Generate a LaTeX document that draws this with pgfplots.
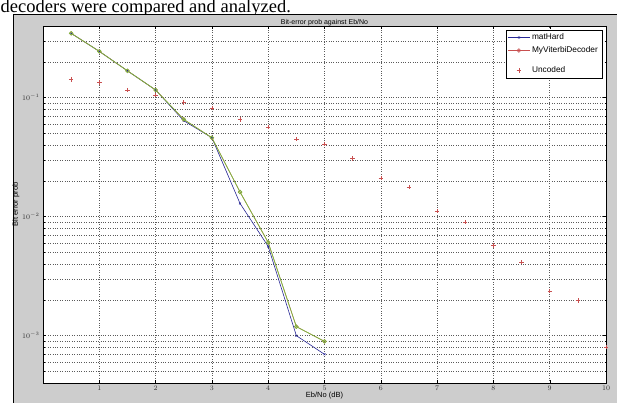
\documentclass[border=0pt]{standalone}
\usepackage{pgfplots}
\pgfplotsset{compat=1.18}
\usepackage{fontspec}
\setmainfont{Liberation Sans}
\newfontfamily\serifcap{Liberation Serif}
\definecolor{figgray}{RGB}{205,205,205}
\definecolor{mblue}{RGB}{40,40,150}
\definecolor{mred}{RGB}{200,80,80}
\definecolor{mgreen}{RGB}{120,190,60}
\definecolor{gridc}{RGB}{90,90,90}
\begin{document}
\begin{tikzpicture}[x=1pt,y=1pt]
\useasboundingbox (0,0) rectangle (617,403);
\clip (0,0) rectangle (617,403);
\fill[white] (0,0) rectangle (617,403);
\node[anchor=base west,inner sep=0pt,font=\serifcap\fontsize{18.5}{20}\selectfont] at (0.5,390.3) {decoders were compared and analyzed.};
\fill[figgray] (13,0) rectangle (620,389);
\draw[black,line width=0.8pt] (13.4,-1) -- (13.4,389) -- (620,389);
\begin{axis}[
  at={(43pt,20pt)}, anchor=south west,
  scale only axis, width=563pt, height=357pt,
  axis background/.style={fill=white},
  xmin=0, xmax=10, ymode=log, ymin=4e-4, ymax=0.4,
  xtick={1,2,3,4,5,6,7,8,9,10},
  ytick={1e-3,1e-2,1e-1},
  minor ytick={5e-4,6e-4,7e-4,8e-4,9e-4,2e-3,3e-3,4e-3,5e-3,6e-3,7e-3,8e-3,9e-3,2e-2,3e-2,4e-2,5e-2,6e-2,7e-2,8e-2,9e-2,2e-1,3e-1,4e-1},
  grid=both,
  major grid style={gridc, dotted, line width=0.5pt},
  minor grid style={gridc, dotted, line width=0.5pt},
  tick align=inside, major tick length=3pt, minor tick length=1.5pt,
  tick style={black, line width=0.4pt},
  axis line style={black, line width=0.5pt},
  tick label style={font=\fontsize{7}{8}\selectfont, text=black!80},
  xticklabel style={yshift=1pt},
  title={Bit-error prob against Eb/No},
  title style={font=\fontsize{7}{8}\selectfont, yshift=-9pt},
  xlabel={Eb/No (dB)},
  ylabel={Bit error prob},
  xlabel style={font=\fontsize{7.5}{8}\selectfont, yshift=5pt},
  ylabel style={font=\fontsize{7.5}{8}\selectfont, yshift=-4pt},
  legend style={at={(0.993,0.99)}, anchor=north east, font=\fontsize{8.3}{9.5}\selectfont, draw=black, line width=0.4pt, fill=white, row sep=1.5pt, inner xsep=2pt, inner ysep=2pt, legend cell align=left},
  legend image code/.code={\draw[mark repeat=2,mark phase=2] plot coordinates {(0cm,0cm) (0.38cm,0cm) (0.76cm,0cm)};},
]
\addplot[mblue, line width=0.6pt, mark=x, mark size=1.3pt] coordinates {
(0.5,0.347) (1,0.245) (1.5,0.168) (2,0.116) (2.5,0.064) (3,0.046) (3.5,0.0129) (4,0.00562) (4.5,0.00100) (5,0.000697)};
\addlegendentry{matHard}
\addplot[mred, line width=0.6pt, mark=o, mark size=1.8pt] coordinates {
(0.5,0.347) (1,0.245) (1.5,0.168) (2,0.116) (2.5,0.0656) (3,0.046) (3.5,0.0161) (4,0.00607) (4.5,0.00119) (5,0.000895)};
\addlegendentry{MyViterbiDecoder}
\addlegendimage{empty legend}
\addlegendentry{}
\addplot[mred, only marks, mark=+, mark size=2.2pt, line width=0.6pt] coordinates {
(0.5,0.142) (1,0.134) (1.5,0.116) (2,0.105) (2.5,0.0907) (3,0.0818) (3.5,0.0656) (4,0.0567) (4.5,0.0448) (5,0.0409) (5.5,0.0308) (6,0.0211) (6.5,0.0177) (7,0.0111) (7.5,0.00902) (8,0.00573) (8.5,0.00414) (9,0.00237) (9.5,0.00197) (10,0.0008)};
\addlegendentry{Uncoded}
\addplot[mgreen, line width=0.7pt, mark=o, mark size=1.8pt, forget plot] coordinates {
(0.5,0.347) (1,0.245) (1.5,0.168) (2,0.116) (2.5,0.0656) (3,0.046) (3.5,0.0161) (4,0.00607) (4.5,0.00119) (5,0.000895)};
\end{axis}
\end{tikzpicture}
\end{document}
